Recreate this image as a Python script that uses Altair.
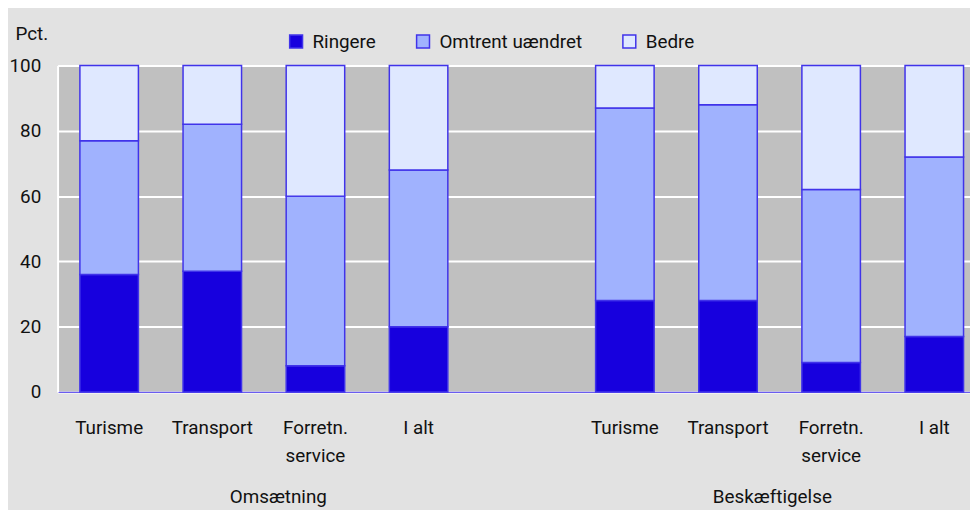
import altair as alt
import pandas as pd

# ---- data ----
positions = [0, 1, 2, 3, 5, 6, 7, 8]
categories = ["Turisme", "Transport", "Forretn.\nservice", "I alt",
              "Turisme", "Transport", "Forretn.\nservice", "I alt"]
ringere = [36, 37, 8, 20, 28, 28, 9, 17]
omtrent = [41, 45, 52, 48, 59, 60, 53, 55]
bedre = [23, 18, 40, 32, 13, 12, 38, 28]
series = ["Ringere", "Omtrent uændret", "Bedre"]
colors = ["#1700de", "#a0b2fe", "#dfe8ff"]
group_titles = ["Omsætning", "Beskæftigelse"]
group_title_pos = [1.64, 6.43]
y_ticks = [0, 20, 40, 60, 80, 100]

FONT = "Roboto"
FS = 19
STROKE = "#4033ea"

rows = []
for i, p in enumerate(positions):
    for k, (name, vals) in enumerate(zip(series, [ringere, omtrent, bedre])):
        rows.append({"pos": p, "series": name, "ord": k, "value": vals[i]})
df = pd.DataFrame(rows)
labels_df = pd.DataFrame({"pos": positions, "label": categories})
groups_df = pd.DataFrame({"pos": group_title_pos, "label": group_titles})

xscale = alt.Scale(domain=[-0.5, 8.3462], nice=False, zero=False, padding=0)

bars = alt.Chart(df).mark_bar(size=59, stroke=STROKE, strokeWidth=1.5).encode(
    x=alt.X("pos:Q", scale=xscale,
            axis=alt.Axis(labels=False, ticks=False, grid=False, title=None,
                          domainColor="#6a5cf0", domainWidth=1.2)),
    y=alt.Y("value:Q", stack="zero",
            scale=alt.Scale(domain=[0, 100], nice=False),
            axis=alt.Axis(values=y_ticks, grid=True, gridColor="white", gridWidth=2,
                          ticks=False, domain=True, domainColor="white", domainWidth=2,
                          labelPadding=17, labelFontSize=FS, labelFont=FONT,
                          labelColor="#111111", title="Pct.", titleAngle=0,
                          titleX=-43, titleY=-32, titleAlign="left",
                          titleBaseline="middle", titleFontSize=FS,
                          titleFontWeight="normal", titleFont=FONT, titleColor="#111111")),
    color=alt.Color("series:N", scale=alt.Scale(domain=series, range=colors),
                    legend=alt.Legend(title=None, orient="none", direction="horizontal",
                                      legendX=231, legendY=-34,
                                      symbolType="square", symbolSize=169,
                                      symbolStrokeColor=STROKE, symbolStrokeWidth=1.5,
                                      labelFont=FONT, labelFontSize=FS, labelColor="#111111",
                                      labelLimit=400, labelOffset=7, columnPadding=38,
                                      padding=0)),
    order=alt.Order("ord:Q"),
)

xlabels = alt.Chart(labels_df).mark_text(
    font=FONT, fontSize=FS, baseline="alphabetic", lineBreak="\n", lineHeight=29,
    color="#111111", align="center"
).encode(x=alt.X("pos:Q", scale=xscale), y=alt.value(371), text="label:N")

gtitles = alt.Chart(groups_df).mark_text(
    font=FONT, fontSize=FS, baseline="alphabetic", color="#111111", align="center"
).encode(x=alt.X("pos:Q", scale=xscale), y=alt.value(441), text="label:N")

chart = alt.layer(bars, xlabels, gtitles).properties(
    width=920, height=329,
    padding={"left": 50, "top": 56, "right": 0, "bottom": 117},
    autosize=alt.AutoSizeParams(type="none"),
).configure(background="#e2e2e2").configure_view(fill="#c0c0c0", stroke="transparent")

chart.save("out.html", embed_options={"renderer": "svg", "actions": False})
